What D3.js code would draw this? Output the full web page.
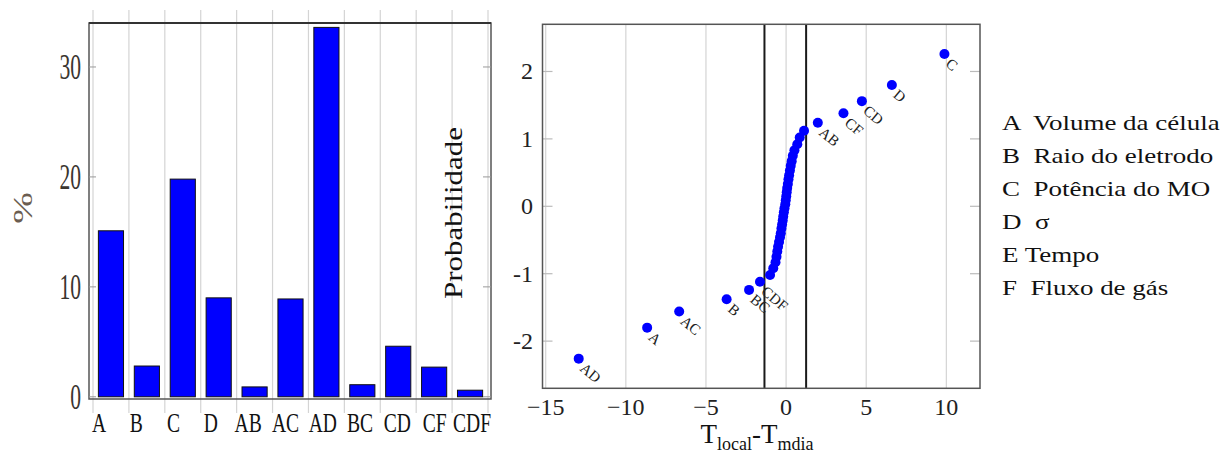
<!DOCTYPE html>
<html><head><meta charset="utf-8">
<script src="https://cdn.jsdelivr.net/npm/d3@7"></script>
<style>
body{margin:0;background:#fff}
svg{display:block}
text{font-family:"Liberation Serif","Times New Roman",serif}
</style>
</head><body>
<svg id="c" width="1222" height="453"></svg>
<script>
// ---------- data ----------
const categories = ["A","B","C","D","AB","AC","AD","BC","CD","CF","CDF"];
const percentages = [15.1,2.8,19.8,9.0,0.9,8.9,33.6,1.1,4.6,2.7,0.6];
const barTicks = [0,10,20,30];

const labeledEffects = ["AD","A","AC","B","BC","CDF","AB","CF","CD","D","C"];
const labeledX = [-12.94,-8.67,-6.67,-3.71,-2.31,-1.63,1.98,3.58,4.73,6.60,9.88];
const labeledY = [-2.26,-1.80,-1.56,-1.38,-1.24,-1.12,1.24,1.38,1.56,1.80,2.26];
const otherX = [-1.00,-0.80,-0.66,-0.60,-0.55,-0.50,-0.44,-0.38,-0.33,-0.29,-0.25,-0.21,-0.18,-0.14,-0.10,-0.05,-0.02,0.01,0.04,0.07,0.11,0.15,0.19,0.24,0.29,0.35,0.42,0.52,0.70,0.85,1.12];
const otherY = [-1.02,-0.92,-0.83,-0.75,-0.67,-0.60,-0.53,-0.46,-0.40,-0.33,-0.27,-0.21,-0.15,-0.09,-0.03,0.03,0.09,0.15,0.21,0.27,0.33,0.40,0.46,0.53,0.60,0.67,0.75,0.83,0.92,1.02,1.12];
const probXTicks = [-15,-10,-5,0,5,10];
const probYTicks = [-2,-1,0,1,2];
const limitLines = [-1.35,1.25];
const legendItems = ["A  Volume da célula","B  Raio do eletrodo","C  Potência do MO","D  σ","E Tempo","F  Fluxo de gás"];

const svg = d3.select("#c");

// ---------- left: bar chart ----------
const L = {left:89, right:491, top:23, bottom:399};
const xCell = d3.scaleBand().domain(categories).range([93,488]).padding(0);
const xLab = d3.scalePoint().domain(categories).range([99,472]);
const yBar = d3.scaleLinear().domain([-0.2,34]).range([L.bottom,L.top]);
const gl = svg.append("g");

const bounds = categories.map(c=>xCell(c)).concat([xCell.range()[1]]);
gl.selectAll("line.grid").data(bounds).join("line")
  .attr("x1",d=>d).attr("x2",d=>d).attr("y1",10).attr("y2",413)
  .attr("stroke","#d4d4d4").attr("stroke-width",1.2);

gl.selectAll("rect.bar").data(categories).join("rect")
  .attr("x",c=>xCell(c)+xCell.bandwidth()*0.15)
  .attr("width",xCell.bandwidth()*0.7)
  .attr("y",(c,i)=>yBar(percentages[i]))
  .attr("height",(c,i)=>yBar(0)-yBar(percentages[i]))
  .attr("fill","#0000ff").attr("stroke","#111").attr("stroke-width",1);

// frame
gl.append("rect").attr("x",L.left).attr("y",L.top).attr("width",L.right-L.left).attr("height",L.bottom-L.top)
  .attr("fill","none").attr("stroke","#555").attr("stroke-width",1.5);
gl.append("line").attr("x1",L.left).attr("x2",L.right).attr("y1",L.top).attr("y2",L.top).attr("stroke","#333").attr("stroke-width",1.8);

gl.selectAll("line.tl").data(barTicks).join("line")
  .attr("x1",L.left).attr("x2",L.left+7).attr("y1",d=>yBar(d)).attr("y2",d=>yBar(d)).attr("stroke","#999");
gl.selectAll("line.tr").data(barTicks).join("line")
  .attr("x1",L.right-8).attr("x2",L.right).attr("y1",d=>yBar(d)).attr("y2",d=>yBar(d)).attr("stroke","#999");

gl.selectAll("text.yt").data(barTicks).join("text")
  .attr("transform",d=>`translate(81,${yBar(d)+12}) scale(0.6,1)`)
  .attr("text-anchor","end").attr("font-size",36).attr("fill","#3a3530").text(d=>d);

gl.selectAll("text.xt").data(categories).join("text")
  .attr("transform",c=>`translate(${xLab(c)},432) scale(0.7,1)`)
  .attr("text-anchor","middle").attr("font-size",28).attr("fill","#111").text(c=>c);

gl.append("text").attr("transform","translate(32,208) scale(0.72,1) rotate(-90)")
  .attr("text-anchor","middle").attr("font-size",38).attr("fill","#6b5d50").text("%");

// ---------- right: normal probability plot ----------
const R = {left:542.5, right:980, top:24.3, bottom:388.3};
const xP = d3.scaleLinear().domain([-15.2,12.1]).range([R.left,R.right]);
const yP = d3.scaleLinear().domain([-2.7,2.7]).range([R.bottom,R.top]);
const gr = svg.append("g");

gr.selectAll("line.gx").data(probXTicks).join("line")
  .attr("x1",d=>xP(d)).attr("x2",d=>xP(d)).attr("y1",R.top).attr("y2",R.bottom)
  .attr("stroke","#d4d4d4").attr("stroke-width",1.2);
gr.selectAll("line.tyl").data(probYTicks).join("line")
  .attr("x1",R.left).attr("x2",R.left+10).attr("y1",d=>yP(d)).attr("y2",d=>yP(d)).attr("stroke","#bbb").attr("stroke-width",1.2);
gr.selectAll("line.tyr").data(probYTicks).join("line")
  .attr("x1",R.right-10).attr("x2",R.right).attr("y1",d=>yP(d)).attr("y2",d=>yP(d)).attr("stroke","#bbb").attr("stroke-width",1.2);

gr.selectAll("line.lim").data(limitLines).join("line")
  .attr("x1",d=>xP(d)).attr("x2",d=>xP(d)).attr("y1",R.top).attr("y2",R.bottom)
  .attr("stroke","#1a1a1a").attr("stroke-width",2);

gr.append("rect").attr("x",R.left).attr("y",R.top).attr("width",R.right-R.left).attr("height",R.bottom-R.top)
  .attr("fill","none").attr("stroke","#555").attr("stroke-width",1.5);

gr.selectAll("circle.o").data(otherX).join("circle")
  .attr("cx",d=>xP(d)).attr("cy",(d,i)=>yP(otherY[i])).attr("r",5).attr("fill","#0000ff");
gr.selectAll("circle.l").data(labeledEffects).join("circle")
  .attr("cx",(d,i)=>xP(labeledX[i])).attr("cy",(d,i)=>yP(labeledY[i])).attr("r",5).attr("fill","#0000ff");
gr.selectAll("text.el").data(labeledEffects).join("text")
  .attr("transform",(d,i)=>`translate(${xP(labeledX[i])+8},${yP(labeledY[i])+2}) rotate(40)`)
  .attr("dy","0.8em").attr("font-size",15).attr("fill","#222").text(d=>d);

gr.selectAll("text.xt").data(probXTicks).join("text")
  .attr("x",d=>xP(d)).attr("y",415).attr("text-anchor","middle").attr("font-size",24).attr("fill","#222")
  .text(d=>d<0?"\u2212"+Math.abs(d):d);
gr.selectAll("text.yt").data(probYTicks).join("text")
  .attr("x",533).attr("y",d=>yP(d)+8).attr("text-anchor","end").attr("font-size",24).attr("fill","#222")
  .text(d=>d<0?"-"+Math.abs(d):d);

const xl = gr.append("text").attr("x",757).attr("y",443).attr("text-anchor","middle").attr("font-size",27).attr("fill","#111");
xl.append("tspan").text("T");
xl.append("tspan").attr("font-size",18).attr("dy",7).text("local");
xl.append("tspan").attr("dy",-7).text("-T");
xl.append("tspan").attr("font-size",18).attr("dy",7).text("mdia");

gr.append("text").attr("transform","translate(462,213) scale(0.8,1) rotate(-90)")
  .attr("text-anchor","middle").attr("font-size",31).attr("fill","#111").text("Probabilidade");

// ---------- legend ----------
const legendBase = d3.scaleLinear().domain([0,5]).range([130,295]);
svg.append("g").selectAll("text").data(legendItems).join("text")
  .attr("transform",(d,i)=>`translate(1002,${legendBase(i)}) scale(1.255,1)`)
  .attr("font-size",21.5).attr("fill","#111")
  .style("white-space","pre").attr("xml:space","preserve").text(d=>d);
</script>
</body></html>
